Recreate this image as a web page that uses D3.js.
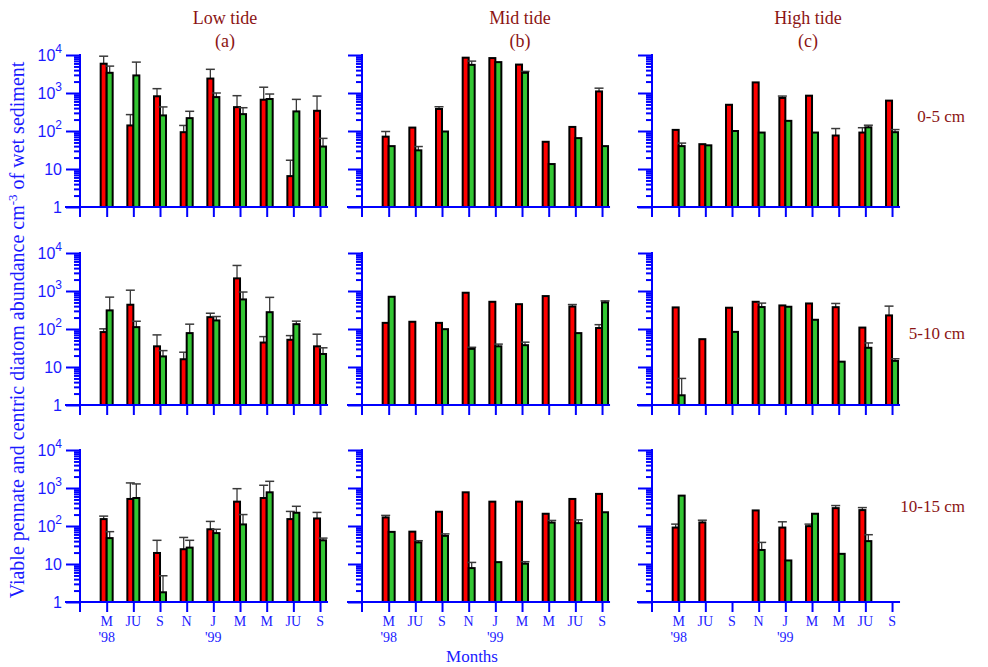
<!DOCTYPE html>
<html>
<head>
<meta charset="utf-8">
<script src="https://cdn.jsdelivr.net/npm/d3@7"></script>
<style>
  html, body { margin: 0; padding: 0; background: #ffffff; }
  svg { display: block; }
</style>
</head>
<body>
<svg id="chart" width="988" height="667"></svg>
<script>
// ---------------- DATA ----------------
const tides = ["Low tide", "Mid tide", "High tide"];
const panelLetters = ["(a)", "(b)", "(c)"];
const depths = ["0-5 cm", "5-10 cm", "10-15 cm"];
const months = ["M", "JU", "S", "N", "J", "M", "M", "JU", "S"];
const yearMarks = ["'98", "", "", "", "'99", "", "", "", ""];
const yTicks = [1, 10, 100, 1000, 10000];

// Red = pennate, Green = centric (mean and upper error value); null = no bar / no error bar
// 0-5 cm
const low_0_5_red       = [5900, 140, 820, 93, 2400, 425, 665, 6.5, 340];
const low_0_5_redErr    = [9300, 270, 1300, 140, 4200, 850, 1420, 17, 830];
const low_0_5_green     = [3400, 2900, 257, 218, 780, 278, 695, 328, 39];
const low_0_5_greenErr  = [5100, 6500, 430, 330, 1000, 410, 940, 680, 64];
const mid_0_5_red       = [71, 123, 380, 8500, 8300, 5600, 52, 128, 1100];
const mid_0_5_redErr    = [97, null, 435, null, null, null, null, null, 1340];
const mid_0_5_green     = [40, 31, 97, 5500, 6500, 3400, 13.5, 65, 40];
const mid_0_5_greenErr  = [null, 39, null, 6900, null, 3700, null, null, null];
const high_0_5_red      = [107, 45, 490, 1900, 740, 850, 76, 91, 630];
const high_0_5_redErr   = [null, null, null, null, 830, null, 116, 122, null];
const high_0_5_green    = [40, 42, 100, 91, 185, 91, null, 125, 93];
const high_0_5_greenErr = [48, null, null, null, null, null, null, 142, 109];
// 5-10 cm
const low_5_10_red       = [83, 435, 35, 16, 205, 2150, 44, 52, 35];
const low_5_10_redErr    = [101, 1050, 70, 24.5, 260, 4700, 63, 67, 73];
const low_5_10_green     = [309, 112, 19, 78, 168, 600, 277, 134, 22];
const low_5_10_greenErr  = [690, 160, 27, 134, 213, 940, 680, 161, 32];
const mid_5_10_red       = [145, 155, 145, 900, 520, 450, 735, 390, 106];
const mid_5_10_redErr    = [null, null, null, null, null, null, null, 440, 130];
const mid_5_10_green     = [705, null, 99, 30, 35, 37.5, null, 78, 500];
const mid_5_10_greenErr  = [null, null, null, 33, 40, 45, null, null, 550];
const high_5_10_red      = [370, 54, 363, 520, 417, 470, 375, 109, 228];
const high_5_10_redErr   = [null, null, null, null, null, null, 470, null, 400];
const high_5_10_green    = [1.8, null, 84, 378, 385, 175, 13.8, 32, 14.5];
const high_5_10_greenErr = [5, null, null, 480, null, null, null, 43, 16.5];
// 10-15 cm
const low_10_15_red       = [152, 515, 19.5, 24.5, 82, 437, 545, 152, 158];
const low_10_15_redErr    = [182, 1360, 42, 50, 132, 960, 1180, 242, 228];
const low_10_15_green     = [48, 545, 1.8, 27, 65, 110, 770, 223, 42];
const low_10_15_greenErr  = [71, 1280, 4.9, 42, 82, 200, 1500, 330, 48];
const mid_10_15_red       = [168, 71, 237, 770, 437, 437, 210, 515, 700];
const mid_10_15_redErr    = [190, null, null, null, null, null, null, null, null];
const mid_10_15_green     = [70, 37, 55, 7.8, 11.2, 10.2, 123, 119, 230];
const mid_10_15_greenErr  = [null, 41, 62, 11, null, 11.5, 140, 145, null];
const high_10_15_red      = [91, 124, null, 257, 91, 99, 295, 262, null];
const high_10_15_redErr   = [112, 142, null, null, 129, 112, 345, 305, null];
const high_10_15_green    = [630, null, null, 23.4, 12.4, 210, 18.5, 40, null];
const high_10_15_greenErr = [null, null, null, 37, null, null, null, 59, null];

// panels[row][col]
const panels = [
  [
    {red: low_0_5_red, redErr: low_0_5_redErr, green: low_0_5_green, greenErr: low_0_5_greenErr},
    {red: mid_0_5_red, redErr: mid_0_5_redErr, green: mid_0_5_green, greenErr: mid_0_5_greenErr},
    {red: high_0_5_red, redErr: high_0_5_redErr, green: high_0_5_green, greenErr: high_0_5_greenErr}
  ],
  [
    {red: low_5_10_red, redErr: low_5_10_redErr, green: low_5_10_green, greenErr: low_5_10_greenErr},
    {red: mid_5_10_red, redErr: mid_5_10_redErr, green: mid_5_10_green, greenErr: mid_5_10_greenErr},
    {red: high_5_10_red, redErr: high_5_10_redErr, green: high_5_10_green, greenErr: high_5_10_greenErr}
  ],
  [
    {red: low_10_15_red, redErr: low_10_15_redErr, green: low_10_15_green, greenErr: low_10_15_greenErr},
    {red: mid_10_15_red, redErr: mid_10_15_redErr, green: mid_10_15_green, greenErr: mid_10_15_greenErr},
    {red: high_10_15_red, redErr: high_10_15_redErr, green: high_10_15_green, greenErr: high_10_15_greenErr}
  ]
];

// ---------------- LAYOUT ----------------
const axisX = [80, 362, 652];
const baseY = [207, 405, 602];
const plotH = 152;
const step = 26.67;
const BLUE = "#0000ff";
const TXTBLUE = "#1a1aff";
const DARKRED = "#8b1414";
const RED = "#ff0000";
const GREEN = "#33c633";
const serif = "'Liberation Serif', 'Times New Roman', serif";
const sans = "'Liberation Sans', Arial, sans-serif";

const svg = d3.select("#chart");

function supLabel(sel, v) {
  if (v < 100) { sel.text(String(v)); return; }
  const e = Math.round(Math.log10(v));
  sel.append("tspan").text("10");
  sel.append("tspan").attr("dy", -8).attr("font-size", 12).text(String(e));
}

const minorTicks = [];
for (let d = 1; d < 10000; d *= 10) for (let k = 2; k <= 9; k++) minorTicks.push(d * k);

panels.forEach((row, r) => {
  row.forEach((p, c) => {
    const x0 = axisX[c], b = baseY[r];
    const x = d3.scaleLinear().domain([0, 9]).range([x0, x0 + 9 * step]);
    const y = d3.scaleLog().domain([1, 10000]).range([b, b - plotH]);
    const g = svg.append("g");

    const idx = d3.range(months.length);
    const drawSeries = (vals, errs, color, dx) => {
      idx.forEach(i => {
        const v = vals[i], e = errs[i];
        if (v == null || e == null) return;
        const cx = x(i + 1) + dx + 3;
        g.append("line").attr("x1", cx).attr("x2", cx)
          .attr("y1", y(v)).attr("y2", y(e))
          .attr("stroke", "#3a3a3a").attr("stroke-width", 1.3);
        g.append("line").attr("x1", cx - 4.5).attr("x2", cx + 4.5)
          .attr("y1", y(e)).attr("y2", y(e))
          .attr("stroke", "#3a3a3a").attr("stroke-width", 1.5);
      });
      g.selectAll(null).data(idx.filter(i => vals[i] != null)).enter().append("rect")
        .attr("x", i => x(i + 1) + dx)
        .attr("width", 6)
        .attr("y", i => y(vals[i]))
        .attr("height", i => y(1) - y(vals[i]))
        .attr("fill", color)
        .attr("stroke", "#000").attr("stroke-width", 2);
    };
    drawSeries(p.red, p.redErr, RED, -6);
    drawSeries(p.green, p.greenErr, GREEN, 0);

    const yMinor = d3.axisLeft(y).tickValues(minorTicks).tickSize(6).tickFormat("");
    const yMajor = d3.axisLeft(y).tickValues(yTicks).tickSize(14).tickFormat("");
    [yMinor, yMajor].forEach(ax => {
      const ga = g.append("g").attr("transform", `translate(${x0},0)`).call(ax);
      ga.select(".domain").remove();
      ga.selectAll(".tick line").attr("stroke", BLUE).attr("stroke-width", 2);
    });
    g.append("line").attr("x1", x0).attr("x2", x0)
      .attr("y1", y(10000) - 1).attr("y2", b + 10)
      .attr("stroke", BLUE).attr("stroke-width", 2);

    g.append("line").attr("x1", x0 - 15).attr("x2", x0 + 9 * step + 8)
      .attr("y1", b).attr("y2", b).attr("stroke", BLUE).attr("stroke-width", 2);
    const xAx = d3.axisBottom(x).tickValues(d3.range(1, 10)).tickSize(10).tickFormat("");
    const gx = g.append("g").attr("transform", `translate(0,${b})`).call(xAx);
    gx.select(".domain").remove();
    gx.selectAll(".tick line").attr("stroke", BLUE).attr("stroke-width", 2);

    if (c === 0) {
      yTicks.forEach(v => {
        const t = g.append("text").attr("x", x0 - 18).attr("y", y(v) + 6)
          .attr("text-anchor", "end").attr("font-family", sans)
          .attr("font-size", 16).attr("fill", TXTBLUE);
        supLabel(t, v);
      });
    }

    if (r === 2) {
      months.forEach((m, i) => {
        g.append("text").attr("x", x(i + 1)).attr("y", b + 24)
          .attr("text-anchor", "middle").attr("font-family", serif)
          .attr("font-size", 14).attr("fill", TXTBLUE).text(m);
        if (yearMarks[i]) {
          g.append("text").attr("x", x(i + 1)).attr("y", b + 40)
            .attr("text-anchor", "middle").attr("font-family", serif)
            .attr("font-size", 14).attr("fill", TXTBLUE).text(yearMarks[i]);
        }
      });
    }
  });
});

const titleX = [225, 520, 808];
tides.forEach((t, c) => {
  svg.append("text").attr("x", titleX[c]).attr("y", 24).attr("text-anchor", "middle")
    .attr("font-family", serif).attr("font-size", 18).attr("fill", DARKRED).text(t);
  svg.append("text").attr("x", titleX[c]).attr("y", 47).attr("text-anchor", "middle")
    .attr("font-family", serif).attr("font-size", 18).attr("fill", DARKRED).text(panelLetters[c]);
});

const rowLabelY = [122, 339, 512];
depths.forEach((d, r) => {
  svg.append("text").attr("x", 965).attr("y", rowLabelY[r]).attr("text-anchor", "end")
    .attr("font-family", serif).attr("font-size", 17).attr("fill", DARKRED).text(d);
});

svg.append("text").attr("x", 472).attr("y", 662).attr("text-anchor", "middle")
  .attr("font-family", serif).attr("font-size", 17).attr("fill", TXTBLUE).text("Months");

const yt = svg.append("text").attr("transform", "translate(24,330) rotate(-90)")
  .attr("text-anchor", "middle").attr("font-family", serif).attr("font-size", 20)
  .attr("fill", TXTBLUE);
yt.append("tspan").text("Viable pennate and centric diatom abundance cm");
yt.append("tspan").attr("dy", -7).attr("font-size", 13).text("-3");
yt.append("tspan").attr("dy", 7).text(" of wet sediment");
</script>
</body>
</html>
